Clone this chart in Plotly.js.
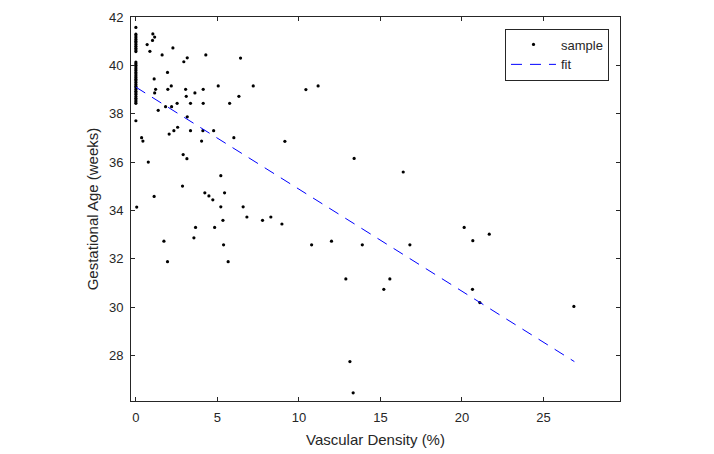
<!DOCTYPE html>
<html>
<head>
<meta charset="utf-8">
<script src="https://cdn.plot.ly/plotly-3.0.1.min.js"></script>
<style>html,body{margin:0;padding:0;background:#fff;}#chart{width:714px;height:454px;}</style>
</head>
<body>
<div id="chart"></div>
<script>
// Sample points: vascular density (%) and gestational age (weeks)
const sampleX = [
  0,0,0,0,0,0,0,0,0,0,0,0,
  0,0,0,0,0,0,0,0,0,0,0,0,0,0,0,0,0,0,0,0,0,0,0,0,0,
  0,0.05,
  0.35,0.43,0.76,1.12,
  0.69,0.86,1.02,1.04,1.15,
  1.61,2.27,3.15,2.94,4.29,6.42,
  1.94,1.12,1.21,1.15,2.17,1.96,3.05,3.09,3.62,4.13,5.05,7.20,6.32,5.75,4.13,3.35,2.53,2.19,1.82,1.37,3.15,
  2.56,2.33,2.04,3.35,4.11,4.77,6.01,4.03,
  10.43,11.18,9.14,
  13.39,16.4,7.77,8.28,8.96,10.78,12.0,13.89,16.81,
  12.88,15.58,15.21,13.13,13.33,
  20.14,21.68,20.67,20.65,21.1,26.87,
  2.9,3.13,2.86,5.21,4.23,4.48,4.72,5.44,5.21,6.58,6.81,5.34,3.66,4.83,3.56,1.72,5.38,1.94,5.66
];
const sampleY = [
  41.57,41.29,41.21,41.14,41.07,41.0,40.93,40.86,40.79,40.71,40.64,40.57,
  40.14,40.07,40.0,39.93,39.86,39.79,39.71,39.64,39.57,39.5,39.43,39.36,39.29,39.21,39.14,39.07,39.0,38.93,38.86,38.79,38.71,38.64,38.57,38.5,38.43,
  37.71,34.14,
  37.01,36.87,36.0,34.58,
  40.86,40.58,41.03,41.30,41.17,
  40.43,40.72,40.31,40.15,40.43,40.30,
  39.71,39.44,39.01,38.86,39.15,39.01,39.01,38.72,38.86,39.01,39.15,39.15,38.72,38.43,38.43,38.43,38.43,38.29,38.29,38.14,37.87,
  37.44,37.30,37.16,37.30,37.30,37.30,37.01,36.87,
  39.0,39.15,36.86,
  36.15,35.59,33.59,33.73,33.44,32.58,32.73,32.58,32.58,
  31.17,31.17,30.74,27.75,26.46,
  33.30,33.02,32.75,30.74,30.19,30.03,
  36.31,36.14,35.01,35.44,34.73,34.6,34.44,34.73,34.15,34.15,33.73,33.59,33.30,33.30,32.87,32.73,32.58,31.88,31.88
];
// Linear fit end points
const fitX = [0, 26.9];
const fitY = [39.1, 27.75];
// Axis ticks
const xTicks = [0, 5, 10, 15, 20, 25];
const yTicks = [28, 30, 32, 34, 36, 38, 40, 42];

const FONT = 'Arial, "Liberation Sans", Helvetica, sans-serif';
const TXT = '#262626';

const traces = [
  {x: sampleX, y: sampleY, type: 'scatter', mode: 'markers', name: 'sample',
   marker: {color: '#000000', size: 3.2}},
  {x: fitX, y: fitY, type: 'scatter', mode: 'lines', name: 'fit',
   line: {color: '#0000ff', width: 1, dash: '11px,8px'}}
];

const axisCommon = {
  showgrid: false, zeroline: false, showline: true, linecolor: TXT, linewidth: 1,
  mirror: 'ticks', ticks: 'inside', ticklen: 4, tickwidth: 1, tickcolor: TXT,
  tickfont: {family: FONT, size: 13, color: TXT}
};

const layout = {
  width: 714, height: 454,
  margin: {l: 131, r: 94, t: 17, b: 53},
  paper_bgcolor: '#ffffff', plot_bgcolor: '#ffffff',
  showlegend: true,
  xaxis: Object.assign({}, axisCommon, {
    range: [-0.3, 29.7], tickmode: 'array', tickvals: xTicks, ticktext: xTicks.map(String),
    ticklabelstandoff: 4,
    title: {text: 'Vascular Density (%)', font: {family: FONT, size: 15, color: TXT}, standoff: 10}
  }),
  yaxis: Object.assign({}, axisCommon, {
    range: [26.12, 42], tickmode: 'array', tickvals: yTicks, ticktext: yTicks.map(String),
    ticklabelstandoff: 4,
    title: {text: 'Gestational Age (weeks)', font: {family: FONT, size: 15, color: TXT}, standoff: 6}
  }),
  legend: {
    x: 0.9775, y: 0.97, xanchor: 'right', yanchor: 'top',
    bgcolor: '#ffffff', bordercolor: TXT, borderwidth: 1,
    font: {family: FONT, size: 13, color: TXT},
    itemwidth: 45, tracegroupgap: 0
  }
};

Plotly.newPlot('chart', traces, layout, {displayModeBar: false, staticPlot: true});
</script>
</body>
</html>
